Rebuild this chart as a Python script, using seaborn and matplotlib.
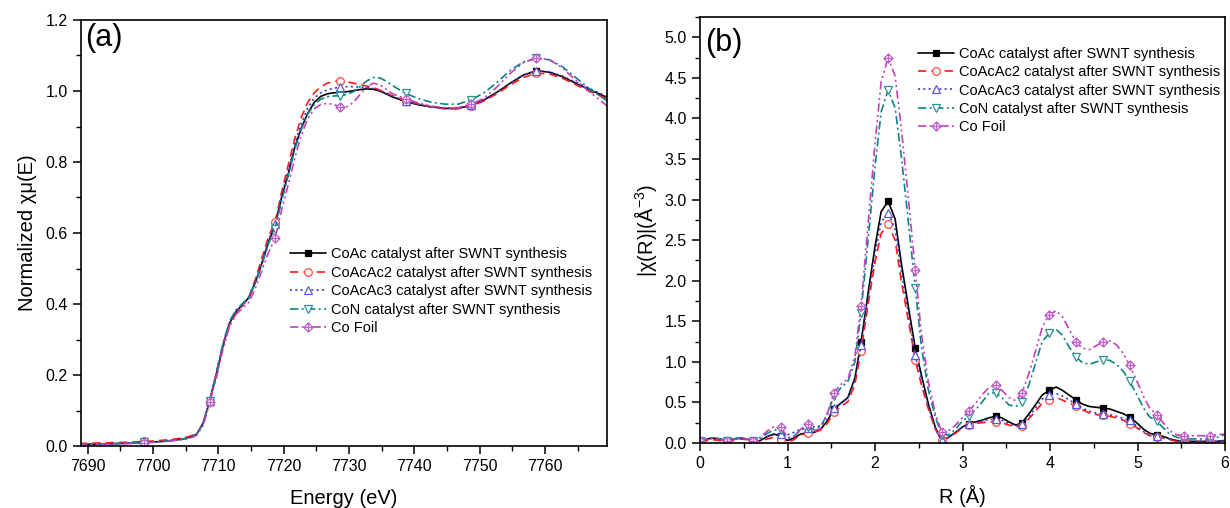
import matplotlib
matplotlib.use("Agg")
import matplotlib.pyplot as plt
import seaborn as sns
from matplotlib.path import Path
from matplotlib.ticker import MultipleLocator, FormatStrFormatter

sns.set_style("ticks")
plt.rcParams['font.family'] = ['Liberation Sans', 'DejaVu Sans']
plt.rcParams['mathtext.fontset'] = 'custom'
plt.rcParams['mathtext.rm'] = 'Liberation Sans'
plt.rcParams['mathtext.it'] = 'Liberation Sans:italic'
for key in ('text.color', 'axes.labelcolor', 'xtick.color', 'ytick.color'):
    plt.rcParams[key] = 'black'

# ---------------- data: (a) XANES ----------------
energy = [7688.7, 7690.7, 7692.7, 7694.7, 7696.7, 7698.7, 7700.7, 7702.7, 7704.7,
          7705.7, 7706.7, 7707.7, 7708.7, 7709.7, 7710.7, 7711.7, 7712.7, 7713.7, 7714.7,
          7715.7, 7716.7, 7717.7, 7718.7, 7719.7, 7720.7, 7721.7, 7722.7, 7723.7, 7724.7,
          7725.7, 7726.7, 7727.7, 7728.7, 7729.7, 7730.7, 7731.7, 7732.7, 7733.7, 7734.7,
          7735.7, 7736.7, 7738.7, 7740.7, 7742.7, 7744.7, 7746.7, 7748.7, 7750.7, 7752.7,
          7754.7, 7756.7, 7758.7, 7760.7, 7762.7, 7764.7, 7766.7, 7769.7]

coac_xanes = [0.004, 0.005, 0.006, 0.007, 0.008, 0.010, 0.012, 0.015, 0.020,
              0.025, 0.033, 0.065, 0.128, 0.200, 0.280, 0.345, 0.378, 0.398, 0.418,
              0.462, 0.515, 0.575, 0.622, 0.700, 0.765, 0.840, 0.895, 0.937, 0.968,
              0.985, 0.992, 0.995, 0.996, 0.998, 1.001, 1.004, 1.006, 1.005, 1.000,
              0.992, 0.983, 0.970, 0.961, 0.955, 0.951, 0.951, 0.960, 0.975, 0.997,
              1.022, 1.045, 1.057, 1.053, 1.040, 1.022, 1.005, 0.980]
coacac2_xanes = [0.007, 0.008, 0.009, 0.010, 0.011, 0.013, 0.015, 0.018, 0.023,
                 0.028, 0.035, 0.062, 0.125, 0.205, 0.285, 0.340, 0.373, 0.395, 0.420,
                 0.470, 0.530, 0.590, 0.630, 0.715, 0.790, 0.865, 0.925, 0.968, 0.995,
                 1.012, 1.022, 1.027, 1.028, 1.026, 1.022, 1.018, 1.014, 1.010, 1.003,
                 0.995, 0.986, 0.973, 0.963, 0.955, 0.950, 0.950, 0.958, 0.972, 0.993,
                 1.017, 1.038, 1.050, 1.048, 1.036, 1.018, 1.000, 0.976]
coacac3_xanes = [0.004, 0.005, 0.006, 0.007, 0.008, 0.010, 0.012, 0.015, 0.020,
                 0.025, 0.033, 0.063, 0.127, 0.202, 0.282, 0.343, 0.376, 0.397, 0.419,
                 0.465, 0.520, 0.580, 0.625, 0.705, 0.775, 0.850, 0.908, 0.952, 0.980,
                 0.995, 1.003, 1.008, 1.011, 1.012, 1.012, 1.011, 1.010, 1.007, 1.002,
                 0.994, 0.985, 0.972, 0.962, 0.955, 0.951, 0.951, 0.960, 0.975, 0.997,
                 1.022, 1.045, 1.057, 1.054, 1.042, 1.025, 1.008, 0.983]
con_xanes = [0.004, 0.005, 0.006, 0.007, 0.008, 0.010, 0.012, 0.015, 0.020,
             0.025, 0.033, 0.064, 0.128, 0.205, 0.287, 0.350, 0.383, 0.401, 0.420,
             0.462, 0.512, 0.570, 0.612, 0.690, 0.760, 0.835, 0.892, 0.935, 0.962,
             0.977, 0.984, 0.986, 0.987, 0.990, 0.998, 1.012, 1.028, 1.038, 1.037,
             1.028, 1.015, 0.993, 0.978, 0.968, 0.963, 0.963, 0.975, 0.995, 1.025,
             1.058, 1.082, 1.092, 1.088, 1.068, 1.038, 1.008, 0.970]
cofoil_xanes = [0.003, 0.004, 0.005, 0.006, 0.007, 0.009, 0.011, 0.014, 0.018,
                0.022, 0.030, 0.058, 0.123, 0.190, 0.270, 0.335, 0.370, 0.388, 0.405,
                0.445, 0.495, 0.545, 0.585, 0.665, 0.735, 0.810, 0.875, 0.922, 0.950,
                0.962, 0.965, 0.962, 0.955, 0.956, 0.968, 0.990, 1.012, 1.022, 1.018,
                1.005, 0.992, 0.978, 0.966, 0.957, 0.953, 0.953, 0.962, 0.980, 1.012,
                1.050, 1.080, 1.093, 1.088, 1.065, 1.030, 1.000, 0.955]

# ---------------- data: (b) Fourier transform ----------------
r_dist = [0.00, 0.08, 0.15, 0.23, 0.31, 0.38, 0.46, 0.54, 0.61, 0.69,
          0.77, 0.84, 0.92, 1.00, 1.07, 1.15, 1.23, 1.30, 1.38, 1.46,
          1.53, 1.61, 1.69, 1.77, 1.84, 1.92, 2.00, 2.07, 2.15, 2.23,
          2.30, 2.38, 2.46, 2.53, 2.61, 2.69, 2.76, 2.84, 2.92, 2.99,
          3.07, 3.15, 3.22, 3.30, 3.38, 3.45, 3.53, 3.61, 3.68, 3.76,
          3.84, 3.91, 3.99, 4.07, 4.14, 4.22, 4.30, 4.37, 4.45, 4.53,
          4.61, 4.68, 4.76, 4.84, 4.91, 4.99, 5.07, 5.14, 5.22, 5.30,
          5.37, 5.45, 5.53, 5.60, 5.68, 5.76, 5.83, 5.91, 5.99, 6.06]

coac_ft = [0.02, 0.05, 0.06, 0.05, 0.02, 0.05, 0.06, 0.05, 0.01, 0.03,
           0.08, 0.11, 0.09, 0.03, 0.06, 0.11, 0.13, 0.13, 0.17, 0.28,
           0.42, 0.49, 0.56, 0.80, 1.24, 1.84, 2.42, 2.85, 2.98, 2.76,
           2.22, 1.69, 1.17, 0.84, 0.48, 0.19, 0.03, 0.07, 0.13, 0.19,
           0.24, 0.26, 0.28, 0.31, 0.33, 0.31, 0.26, 0.22, 0.25, 0.36,
           0.48, 0.59, 0.65, 0.69, 0.65, 0.59, 0.53, 0.48, 0.45, 0.44,
           0.43, 0.42, 0.39, 0.36, 0.32, 0.25, 0.17, 0.12, 0.10, 0.08,
           0.05, 0.03, 0.02, 0.02, 0.02, 0.02, 0.02, 0.02, 0.03, 0.03]
coacac2_ft = [0.01, 0.03, 0.04, 0.03, 0.01, 0.03, 0.05, 0.04, 0.01, 0.02,
              0.05, 0.07, 0.04, 0.01, 0.04, 0.10, 0.12, 0.13, 0.16, 0.25,
              0.38, 0.45, 0.51, 0.72, 1.13, 1.70, 2.23, 2.58, 2.70, 2.50,
              2.00, 1.52, 1.02, 0.72, 0.42, 0.17, 0.04, 0.07, 0.12, 0.18,
              0.22, 0.24, 0.25, 0.26, 0.26, 0.25, 0.22, 0.20, 0.21, 0.30,
              0.40, 0.49, 0.53, 0.56, 0.53, 0.49, 0.46, 0.41, 0.37, 0.35,
              0.34, 0.33, 0.31, 0.28, 0.24, 0.19, 0.13, 0.09, 0.08, 0.06,
              0.04, 0.02, 0.01, 0.01, 0.01, 0.01, 0.01, 0.01, 0.02, 0.02]
coacac3_ft = [0.02, 0.05, 0.06, 0.05, 0.02, 0.05, 0.06, 0.05, 0.02, 0.04,
              0.08, 0.10, 0.11, 0.10, 0.13, 0.17, 0.19, 0.20, 0.21, 0.30,
              0.43, 0.49, 0.55, 0.77, 1.21, 1.77, 2.33, 2.72, 2.84, 2.63,
              2.12, 1.60, 1.08, 0.78, 0.45, 0.18, 0.04, 0.07, 0.13, 0.19,
              0.24, 0.25, 0.27, 0.29, 0.29, 0.28, 0.24, 0.21, 0.24, 0.33,
              0.44, 0.54, 0.59, 0.61, 0.58, 0.53, 0.48, 0.43, 0.39, 0.37,
              0.36, 0.35, 0.33, 0.30, 0.28, 0.21, 0.14, 0.10, 0.09, 0.07,
              0.05, 0.03, 0.02, 0.02, 0.02, 0.02, 0.02, 0.02, 0.03, 0.03]
con_ft = [0.02, 0.05, 0.06, 0.05, 0.02, 0.05, 0.06, 0.05, 0.02, 0.05,
          0.12, 0.16, 0.16, 0.06, 0.08, 0.16, 0.20, 0.17, 0.21, 0.36,
          0.58, 0.68, 0.76, 1.00, 1.60, 2.49, 3.40, 4.08, 4.35, 4.13,
          3.54, 2.74, 1.91, 1.19, 0.65, 0.32, 0.10, 0.10, 0.17, 0.26,
          0.33, 0.41, 0.50, 0.61, 0.62, 0.56, 0.47, 0.45, 0.51, 0.72,
          1.00, 1.25, 1.35, 1.40, 1.33, 1.18, 1.06, 0.99, 0.97, 1.00,
          1.02, 1.02, 0.97, 0.88, 0.76, 0.60, 0.43, 0.32, 0.27, 0.18,
          0.11, 0.07, 0.05, 0.05, 0.05, 0.05, 0.05, 0.07, 0.10, 0.11]
cofoil_ft = [0.02, 0.05, 0.06, 0.05, 0.02, 0.05, 0.06, 0.05, 0.02, 0.07,
             0.15, 0.20, 0.20, 0.07, 0.07, 0.17, 0.23, 0.15, 0.18, 0.38,
             0.62, 0.72, 0.79, 1.07, 1.69, 2.68, 3.69, 4.45, 4.75, 4.52,
             3.89, 3.03, 2.13, 1.35, 0.75, 0.36, 0.14, 0.15, 0.22, 0.30,
             0.39, 0.49, 0.59, 0.68, 0.71, 0.65, 0.56, 0.52, 0.62, 0.86,
             1.15, 1.42, 1.58, 1.63, 1.56, 1.40, 1.24, 1.17, 1.15, 1.20,
             1.25, 1.26, 1.21, 1.10, 0.96, 0.77, 0.57, 0.43, 0.35, 0.24,
             0.15, 0.10, 0.09, 0.09, 0.09, 0.09, 0.09, 0.10, 0.11, 0.12]

labels = ["CoAc catalyst after SWNT synthesis",
          "CoAcAc2 catalyst after SWNT synthesis",
          "CoAcAc3 catalyst after SWNT synthesis",
          "CoN catalyst after SWNT synthesis",
          "Co Foil"]

# diamond with a cross inside (Origin style symbol)
diamond_plus = Path([(0, 1), (1, 0), (0, -1), (-1, 0), (0, 1),
                     (0, 1), (0, -1), (-1, 0), (1, 0)],
                    [Path.MOVETO, Path.LINETO, Path.LINETO, Path.LINETO, Path.CLOSEPOLY,
                     Path.MOVETO, Path.LINETO, Path.MOVETO, Path.LINETO])

styles = [
    dict(color="#000000", linestyle="-", marker="s", mfc="#000000", mec="#000000", ms=4.5),
    dict(color="#FF1A1A", linestyle=(0, (5, 3)), marker="o", mfc="white", mec="#FF4A3A", ms=5.5),
    dict(color="#3838C8", linestyle=(0, (1.2, 2)), marker="^", mfc="white", mec="#5A5AD8", ms=5.5),
    dict(color="#0A8484", linestyle=(0, (5, 2, 1.2, 2)), marker="v", mfc="white", mec="#2A9494", ms=5.5),
    dict(color="#C040C0", linestyle=(0, (5, 2, 1.2, 2, 1.2, 2)), marker=diamond_plus,
         mfc="white", mec="#C060C8", ms=6.5),
]

fig = plt.figure(figsize=(12.3, 5.08), dpi=100)
ax1 = fig.add_axes([81 / 1230, 62 / 508, 526 / 1230, 426 / 508])
ax2 = fig.add_axes([700 / 1230, 65 / 508, 525 / 1230, 426 / 508])

# markers every 10 eV in panel (a)
mark_a = [i for i, e in enumerate(energy) if e > 7690 and round(e - 7688.7) % 10 == 0]

xanes = [coac_xanes, coacac2_xanes, coacac3_xanes, con_xanes, cofoil_xanes]
ft = [coac_ft, coacac2_ft, coacac3_ft, con_ft, cofoil_ft]

for vals, lab, st in zip(xanes, labels, styles):
    sns.lineplot(x=energy, y=vals, ax=ax1, label=lab, lw=1.2, markevery=mark_a,
                 mew=0.9, sort=False, **st)
for vals, lab, st in zip(ft, labels, styles):
    sns.lineplot(x=r_dist, y=vals, ax=ax2, label=lab, lw=1.2, markevery=(0, 4),
                 mew=0.9, sort=False, **st)

# axes (a)
ax1.set_xlim(7689, 7769.5)
ax1.set_ylim(0, 1.2)
ax1.xaxis.set_major_locator(MultipleLocator(10))
ax1.xaxis.set_minor_locator(MultipleLocator(5))
ax1.yaxis.set_major_locator(MultipleLocator(0.2))
ax1.yaxis.set_minor_locator(MultipleLocator(0.1))
ax1.yaxis.set_major_formatter(FormatStrFormatter("%.1f"))
ax1.set_xlabel("Energy (eV)", fontsize=14.5, labelpad=11)
ax1.set_ylabel("Normalized χμ(E)", fontsize=14.5, labelpad=6)
ax1.text(0.008, 0.993, "(a)", transform=ax1.transAxes, ha="left", va="top", fontsize=22)

# axes (b)
ax2.set_xlim(0, 6)
ax2.set_ylim(0, 5.25)
ax2.xaxis.set_major_locator(MultipleLocator(1))
ax2.xaxis.set_minor_locator(MultipleLocator(0.5))
ax2.yaxis.set_major_locator(MultipleLocator(0.5))
ax2.yaxis.set_minor_locator(MultipleLocator(0.25))
ax2.yaxis.set_major_formatter(FormatStrFormatter("%.1f"))
ax2.set_xlabel("R (Å)", fontsize=14.5, labelpad=10)
ax2.set_ylabel("|χ(R)|(Å$^{-3}$)", fontsize=14.5)
ax2.text(0.01, 0.975, "(b)", transform=ax2.transAxes, ha="left", va="top", fontsize=22)

for ax in (ax1, ax2):
    for sp in ax.spines.values():
        sp.set_visible(True)
        sp.set_linewidth(1.2)
        sp.set_color("black")
    ax.tick_params(which="major", direction="out", length=6, width=1.1, labelsize=11.5,
                   top=False, right=False, colors="black")
    ax.tick_params(which="minor", direction="out", length=3.5, width=1.0,
                   top=False, right=False, colors="black")
    ax.grid(False)

leg_kw = dict(loc="upper left", frameon=False, fontsize=10.5, handlelength=2.5,
              handletextpad=0.3, labelspacing=0.3, borderpad=0, borderaxespad=0)
ax1.legend(bbox_to_anchor=(0.397, 0.466), **leg_kw)
ax2.legend(bbox_to_anchor=(0.415, 0.93), **leg_kw)

fig.savefig("out.png", dpi=100)
